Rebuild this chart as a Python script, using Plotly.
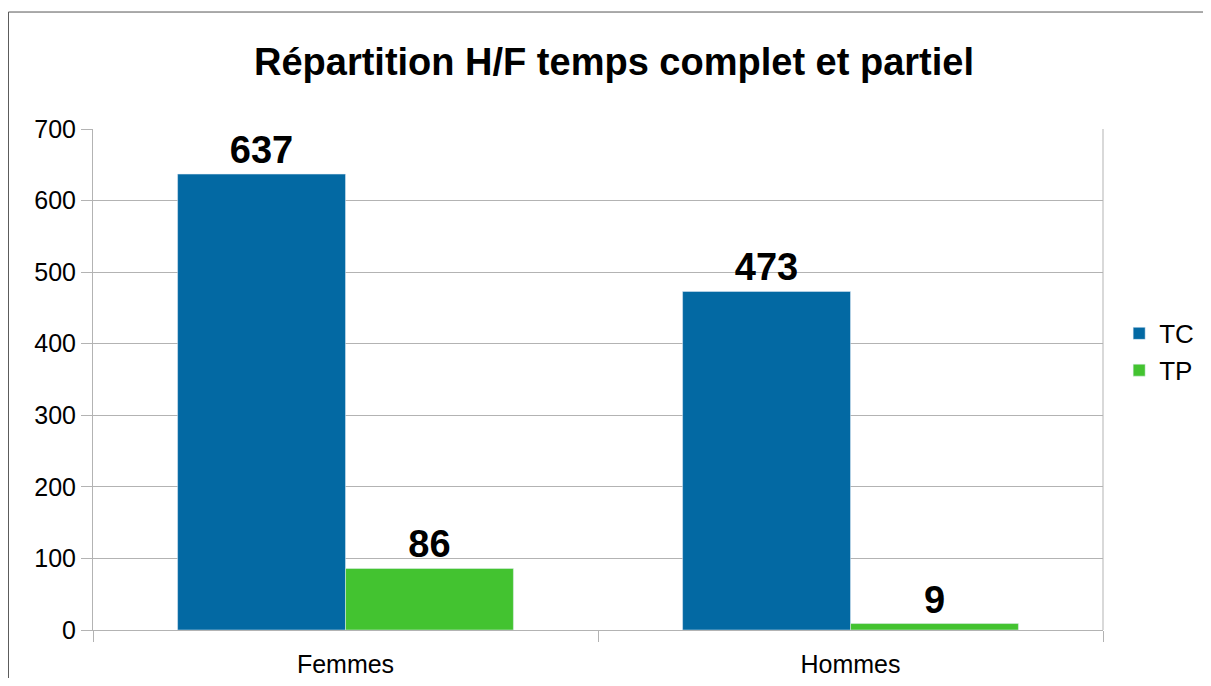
import plotly.graph_objects as go

categories = ["Femmes", "Hommes"]
tc_values = [637, 473]
tp_values = [86, 9]

fig = go.Figure()
fig.add_trace(go.Bar(x=categories, y=tc_values, name="TC", marker_color="#0369a3",
                     text=tc_values, textposition="outside", cliponaxis=False,
                     textfont=dict(size=38, color="black", family="Liberation Sans"),
                     texttemplate="<b>%{text}</b>"))
fig.add_trace(go.Bar(x=categories, y=tp_values, name="TP", marker_color="#43c330",
                     text=tp_values, textposition="outside", cliponaxis=False,
                     textfont=dict(size=38, color="black", family="Liberation Sans"),
                     texttemplate="<b>%{text}</b>"))

# page has an 8px body margin, figure kept smaller so nothing scrolls
fig.update_layout(
    width=1195, height=670,
    margin=dict(l=85, r=100, t=121, b=48, autoexpand=False),
    paper_bgcolor="white", plot_bgcolor="white",
    font=dict(family="Liberation Sans", size=25, color="black"),
    title=dict(text="<b>Répartition H/F temps complet et partiel</b>",
               x=0.5071, xanchor="center", y=0.9194, yanchor="middle",
               font=dict(size=38, color="black")),
    barmode="group", bargap=0.335, bargroupgap=0,
    legend=dict(x=1.016, y=0.555, xanchor="left", yanchor="middle",
                font=dict(size=26), tracegroupgap=0),
    showlegend=True,
)
fig.update_yaxes(range=[0, 700], dtick=100, showgrid=True, gridcolor="#b3b3b3",
                 gridwidth=1, showline=True, linecolor="#b3b3b3",
                 ticks="outside", ticklen=11, tickcolor="#b3b3b3", zeroline=False,
                 tickfont=dict(size=25), automargin=False)
fig.update_xaxes(showline=True, linecolor="#b3b3b3", ticks="outside",
                 tickson="boundaries", ticklen=11, tickcolor="#b3b3b3",
                 showgrid=False, tickfont=dict(size=25), ticklabelstandoff=12,
                 automargin=False)
fig.add_shape(type="line", xref="paper", yref="paper", x0=1, x1=1, y0=0, y1=1,
              line=dict(color="#b3b3b3", width=1))
# outer chart border (only left and top edges are inside the picture)
fig.add_shape(type="line", xref="paper", yref="paper", x0=-0.0837, x1=1.2,
              y0=1.2335, y1=1.2335, line=dict(color="#555555", width=1))
fig.add_shape(type="line", xref="paper", yref="paper", x0=-0.0837, x1=-0.0837,
              y0=-0.2, y1=1.2335, line=dict(color="#555555", width=1))

fig.write_html("out.html")
